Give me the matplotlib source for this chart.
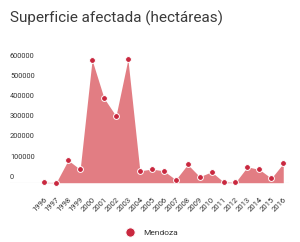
import matplotlib
matplotlib.use("Agg")
import matplotlib.pyplot as plt
import matplotlib.transforms as mtransforms

# datos
anios = [1996, 1997, 1998, 1999, 2000, 2001, 2002, 2003, 2004, 2005, 2006,
         2007, 2008, 2009, 2010, 2011, 2012, 2013, 2014, 2015, 2016]
hectareas = [2000, 1000, 112000, 66000, 611000, 421000, 332000, 614000, 59000, 68000, 59000,
             15000, 91000, 30000, 54000, 4000, 2000, 79000, 66000, 22000, 96000]
ticks_y = [0, 100000, 200000, 300000, 400000, 500000, 600000]
serie = "Mendoza"
titulo = "Superficie afectada (hectáreas)"

plt.rcParams['font.family'] = ['Roboto', 'DejaVu Sans']

fig = plt.figure(figsize=(3.0, 2.42), dpi=100)
ax = fig.add_axes([0.0333, 0.245, 0.93, 0.548])

color_area = '#e27d83'
color_punto = '#c9283f'

ax.fill_between(anios, hectareas, 0, color=color_area, lw=0)
ax.plot(anios, hectareas, 'o', color=color_punto, markersize=4.2,
        markeredgecolor='white', markeredgewidth=0.7, clip_on=False, zorder=3, label=serie)

ax.set_xlim(1993.13, 2016.48)
ax.set_ylim(0, 660000)

# linea base
ax.axhline(0, color='#cccccc', lw=0.8, zorder=0)

for s in ax.spines.values():
    s.set_visible(False)
ax.set_yticks([])
ax.set_xticks(anios)
ax.set_xticklabels([str(a) for a in anios], rotation=45, ha='right',
                   rotation_mode='anchor', fontsize=5.5, color='#333333')
ax.tick_params(axis='x', length=0, pad=10)

# etiquetas del eje y dentro del grafico, encima de cada linea
trans = mtransforms.blended_transform_factory(ax.transAxes, ax.transData)
for v in ticks_y:
    ax.annotate(str(v), xy=(0, v), xycoords=trans, xytext=(0, 1.5),
                textcoords='offset points', ha='left', va='bottom',
                fontsize=5.3, color='#333333')

fig.text(0.0333, 1 - 18 / 242, titulo, fontsize=11, color='#3a3a3a',
         ha='left', va='center')

fig.legend(loc='center', bbox_to_anchor=(0.5, 1 - 232.7 / 242), frameon=False,
           fontsize=6, handletextpad=0.6, markerscale=1.6, labelcolor='#333333')

fig.savefig('out.png', dpi=100)
